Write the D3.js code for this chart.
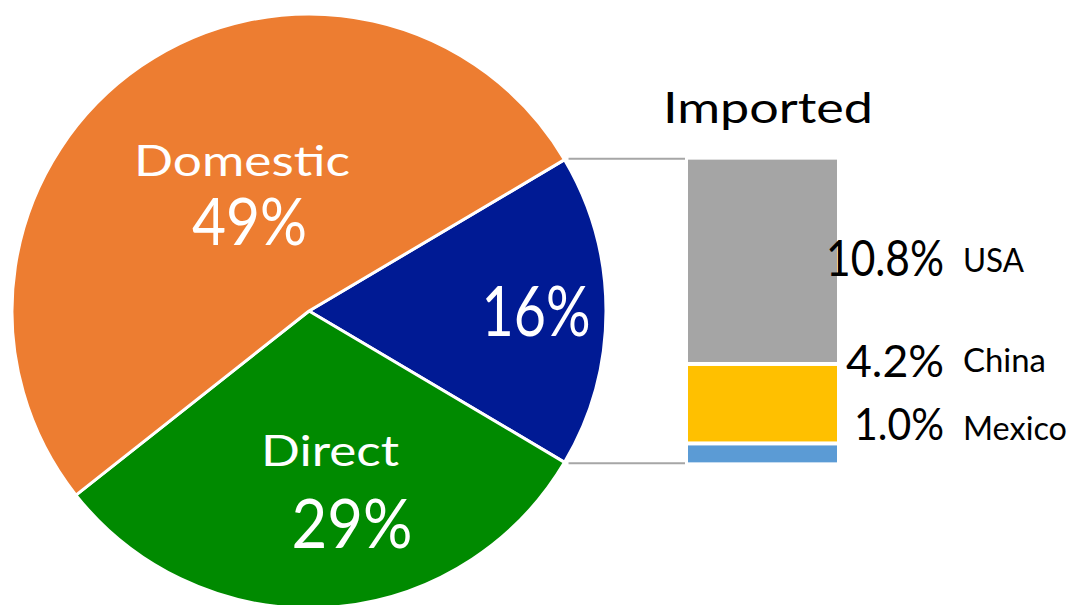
<!DOCTYPE html>
<html>
<head>
<meta charset="utf-8">
<script src="https://cdn.jsdelivr.net/npm/d3@7"></script>
<style>
  html, body { margin: 0; padding: 0; background: #ffffff; }
  svg { display: block; }
  text { font-family: Lato, "Open Sans", sans-serif; }
</style>
</head>
<body>
<svg id="chart" width="1073" height="605"></svg>
<script>
// ---- data ----
const pieCategories = ["Imported", "Direct", "Domestic"];
const pieValues = [16, 29, 49];
const pieNames = ["", "Direct", "Domestic"];
const pieValueLabels = ["16%", "29%", "49%"];
const importCountries = ["USA", "China", "Mexico"];
const importValues = [10.8, 4.2, 1.0];
const importValueLabels = ["10.8%", "4.2%", "1.0%"];
const barTitle = "Imported";

// ---- styles ----
const pieColors = ["#001a94", "#008a00", "#ed7d31"];
const barColors = ["#a5a5a5", "#ffc000", "#5b9bd5"];

const svg = d3.select("#chart");
const cx = 309, cy = 311, R = 297;

const total = d3.sum(pieValues);
const start = Math.PI / 2 - (pieValues[0] / total) * Math.PI;
const pie = d3.pie().sort(null).value(d => d).startAngle(start).endAngle(start + 2 * Math.PI);
const arcs = pie(pieValues);
const arc = d3.arc().innerRadius(0).outerRadius(R);

const g = svg.append("g").attr("transform", `translate(${cx},${cy})`);
g.selectAll("path").data(arcs).join("path")
  .attr("d", arc)
  .attr("fill", (d, i) => pieColors[i])
  .attr("stroke", "#ffffff")
  .attr("stroke-width", 3)
  .attr("stroke-linejoin", "round");

// imported slice edge points
const a0 = arcs[0].startAngle, a1 = arcs[0].endAngle;
const p0 = [cx + R * Math.sin(a0), cy - R * Math.cos(a0)];
const p1 = [cx + R * Math.sin(a1), cy - R * Math.cos(a1)];

// ---- stacked bar ----
const barX0 = 688, barX1 = 837, gap = 4;
const y = d3.scaleLinear().domain([0, d3.sum(importValues)]).range([p1[1], p0[1]]);
let cum = d3.sum(importValues);
const stack = importValues.map(v => { const top = cum; cum -= v; return { top, bottom: cum }; });
svg.selectAll("rect.bar").data(stack).join("rect")
  .attr("class", "bar")
  .attr("x", barX0)
  .attr("width", barX1 - barX0)
  .attr("y", (d, i) => y(d.top) + (i > 0 ? gap / 2 : 0))
  .attr("height", (d, i) => (y(d.bottom) - y(d.top)) - (i > 0 ? gap / 2 : 0) - (i < stack.length - 1 ? gap / 2 : 0))
  .attr("fill", (d, i) => barColors[i]);

// connector lines
[p0, p1].forEach((p, i) => {
  svg.append("line")
    .attr("x1", p[0] + 4).attr("x2", barX0 - 3)
    .attr("y1", i === 0 ? y.range()[1] - 1 : y.range()[0] + 1)
    .attr("y2", i === 0 ? y.range()[1] - 1 : y.range()[0] + 1)
    .attr("stroke", "#a6a6a6").attr("stroke-width", 2);
});

// ---- text ----
function label(txt, x, yb, size, color, anchor, len) {
  const t = svg.append("text")
    .attr("x", x).attr("y", yb)
    .attr("font-size", size)
    .attr("fill", color)
    .attr("text-anchor", anchor)
    .text(txt);
  if (len) t.attr("textLength", len).attr("lengthAdjust", "spacingAndGlyphs");
  return t;
}

// pie labels
label(pieNames[2], 242, 176, 43, "#ffffff", "middle", 216);
label(pieValueLabels[2], 249.5, 245, 66, "#ffffff", "middle", 115);
label(pieNames[1], 330, 466, 43, "#ffffff", "middle", 138);
label(pieValueLabels[1], 352, 548, 67, "#ffffff", "middle", 121);
label(pieValueLabels[0], 536, 336, 69, "#ffffff", "middle", 109);

// bar title
label(barTitle, 768, 123, 43, "#000000", "middle", 210);

// bar labels
const valPos = [[944, 276, 50, 118], [944, 377, 45, 98], [944, 440, 44, 90]];
const namePos = [[963, 272, 33, 61], [963, 372, 32, 83], [963, 440, 32, 104]];
importValueLabels.forEach((t, i) => label(t, valPos[i][0], valPos[i][1], valPos[i][2], "#000000", "end", valPos[i][3]));
importCountries.forEach((t, i) => label(t, namePos[i][0], namePos[i][1], namePos[i][2], "#000000", "start", namePos[i][3]));
</script>
</body>
</html>
